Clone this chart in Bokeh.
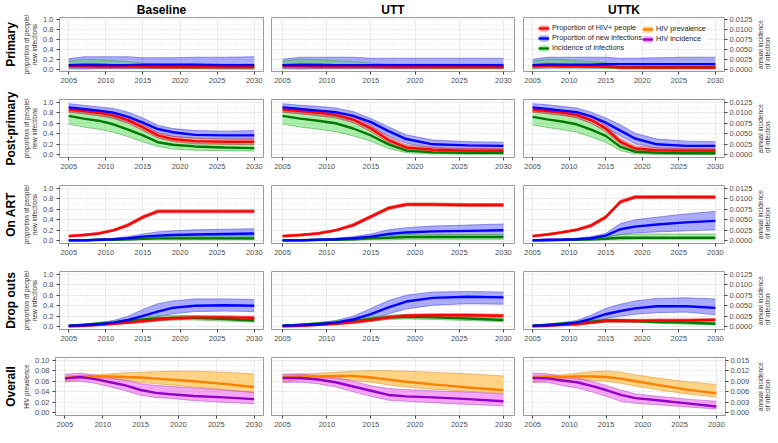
from bokeh.plotting import figure
from bokeh.models import (Range1d, LinearAxis, FixedTicker, NumeralTickFormatter,
                          Title, Legend, LegendItem)
from bokeh.layouts import column, row
from bokeh.embed import file_html
from bokeh.resources import INLINE

YEARS = [2005, 2007, 2009, 2011, 2013, 2015, 2017, 2019, 2022, 2026, 2030]
X_TICKS = [2005, 2010, 2015, 2020, 2025, 2030]

COLS = ["B", "U", "K"]
COL_TITLES = ["Baseline", "UTT", "UTTK"]
ROWS = ["PRI", "POST", "ART", "DROP", "ALL"]
ROW_TITLES = ["Primary", "Post-primary", "On ART", "Drop outs", "Overall"]
RIGHT_TITLE = "annual incidence\nof infection"

# ---------------- Primary ----------------
B_PRI_HIV = [0.06, 0.06, 0.05, 0.05, 0.05, 0.05, 0.04, 0.04, 0.04, 0.04, 0.04]
B_PRI_HIV_LO = [0.03, 0.02, 0.02, 0.02, 0.02, 0.02, 0.02, 0.02, 0.02, 0.02, 0.02]
B_PRI_HIV_HI = [0.09, 0.11, 0.10, 0.09, 0.08, 0.07, 0.06, 0.06, 0.06, 0.06, 0.06]
B_PRI_NEW = [0.08, 0.08, 0.08, 0.08, 0.08, 0.09, 0.09, 0.09, 0.09, 0.08, 0.08]
B_PRI_NEW_LO = [0.01, 0.00, 0.01, 0.01, 0.01, 0.01, 0.01, 0.01, 0.01, 0.00, 0.00]
B_PRI_NEW_HI = [0.21, 0.25, 0.25, 0.25, 0.25, 0.23, 0.23, 0.23, 0.24, 0.24, 0.25]
B_PRI_INC = [0.001, 0.00113, 0.00113, 0.001, 0.00088, 0.00075, 0.00063, 0.00063, 0.00063, 0.00063, 0.00063]
B_PRI_INC_LO = [0.00025, 0.00038, 0.00038, 0.00038, 0.00025, 0.00025, 0.00025, 0.00025, 0.00013, 0.00013, 0.00013]
B_PRI_INC_HI = [0.002, 0.0025, 0.00238, 0.00213, 0.00188, 0.0015, 0.00125, 0.00125, 0.00125, 0.00125, 0.00125]

U_PRI_HIV = [0.06, 0.06, 0.05, 0.05, 0.05, 0.05, 0.04, 0.04, 0.04, 0.04, 0.04]
U_PRI_HIV_LO = [0.03, 0.02, 0.02, 0.02, 0.02, 0.02, 0.02, 0.02, 0.02, 0.02, 0.02]
U_PRI_HIV_HI = [0.09, 0.11, 0.10, 0.09, 0.08, 0.07, 0.06, 0.06, 0.06, 0.06, 0.06]
U_PRI_NEW = [0.08, 0.08, 0.08, 0.08, 0.08, 0.08, 0.08, 0.08, 0.08, 0.08, 0.08]
U_PRI_NEW_LO = [0.01, 0.00, 0.01, 0.01, 0.01, 0.01, 0.01, 0.01, 0.01, 0.01, 0.01]
U_PRI_NEW_HI = [0.20, 0.24, 0.24, 0.24, 0.24, 0.22, 0.22, 0.22, 0.22, 0.22, 0.22]
U_PRI_INC = [0.001, 0.00113, 0.00113, 0.001, 0.00088, 0.00075, 0.00063, 0.00063, 0.00063, 0.00063, 0.00063]
U_PRI_INC_LO = [0.00025, 0.00038, 0.00038, 0.00038, 0.00025, 0.00025, 0.00025, 0.00025, 0.00013, 0.00013, 0.00013]
U_PRI_INC_HI = [0.002, 0.0025, 0.00238, 0.00213, 0.00188, 0.0015, 0.00125, 0.00125, 0.00125, 0.00125, 0.00125]

K_PRI_HIV = [0.06, 0.07, 0.06, 0.06, 0.06, 0.05, 0.03, 0.03, 0.03, 0.03, 0.03]
K_PRI_HIV_LO = [0.03, 0.04, 0.03, 0.03, 0.03, 0.03, 0.01, 0.01, 0.01, 0.01, 0.01]
K_PRI_HIV_HI = [0.09, 0.12, 0.10, 0.09, 0.09, 0.08, 0.05, 0.05, 0.05, 0.05, 0.05]
K_PRI_NEW = [0.08, 0.09, 0.09, 0.09, 0.09, 0.10, 0.10, 0.10, 0.10, 0.10, 0.10]
K_PRI_NEW_LO = [0.01, 0.02, 0.02, 0.02, 0.02, 0.02, 0.03, 0.03, 0.03, 0.03, 0.03]
K_PRI_NEW_HI = [0.20, 0.24, 0.24, 0.24, 0.24, 0.24, 0.22, 0.22, 0.23, 0.24, 0.24]
K_PRI_INC = [0.0009, 0.001, 0.001, 0.0009, 0.0008, 0.0007, 0.0005, 0.0005, 0.0005, 0.0005, 0.0005]
K_PRI_INC_LO = [0.0002, 0.0003, 0.0003, 0.0003, 0.0002, 0.0002, 0.0001, 0.0001, 0.0001, 0.0001, 0.0001]
K_PRI_INC_HI = [0.0019, 0.0025, 0.0024, 0.0021, 0.0019, 0.0016, 0.0012, 0.0011, 0.0011, 0.0011, 0.0011]

# ---------------- Post-primary ----------------
B_POST_HIV = [0.86, 0.83, 0.80, 0.75, 0.66, 0.52, 0.37, 0.30, 0.26, 0.25, 0.25]
B_POST_HIV_LO = [0.81, 0.78, 0.74, 0.69, 0.60, 0.46, 0.32, 0.25, 0.21, 0.20, 0.20]
B_POST_HIV_HI = [0.91, 0.88, 0.85, 0.81, 0.72, 0.58, 0.42, 0.35, 0.31, 0.30, 0.30]
B_POST_NEW = [0.90, 0.87, 0.84, 0.80, 0.72, 0.61, 0.49, 0.43, 0.38, 0.37, 0.37]
B_POST_NEW_LO = [0.82, 0.78, 0.75, 0.70, 0.62, 0.52, 0.41, 0.35, 0.32, 0.31, 0.30]
B_POST_NEW_HI = [0.97, 0.94, 0.91, 0.88, 0.81, 0.70, 0.56, 0.50, 0.46, 0.45, 0.46]
B_POST_INC = [0.00925, 0.0086, 0.0081, 0.00725, 0.006, 0.0046, 0.003, 0.0024, 0.002, 0.00175, 0.0016]
B_POST_INC_LO = [0.0073, 0.0066, 0.0061, 0.0054, 0.0043, 0.0031, 0.002, 0.0014, 0.0011, 0.001, 0.0009]
B_POST_INC_HI = [0.0106, 0.0101, 0.0096, 0.0089, 0.0075, 0.006, 0.0041, 0.0034, 0.0029, 0.0026, 0.0025]

U_POST_HIV = [0.86, 0.83, 0.80, 0.76, 0.67, 0.50, 0.28, 0.14, 0.10, 0.08, 0.08]
U_POST_HIV_LO = [0.81, 0.78, 0.74, 0.70, 0.61, 0.44, 0.23, 0.10, 0.07, 0.05, 0.05]
U_POST_HIV_HI = [0.91, 0.88, 0.85, 0.82, 0.73, 0.56, 0.34, 0.19, 0.14, 0.12, 0.12]
U_POST_NEW = [0.90, 0.87, 0.84, 0.81, 0.74, 0.62, 0.45, 0.30, 0.20, 0.18, 0.17]
U_POST_NEW_LO = [0.82, 0.78, 0.75, 0.72, 0.64, 0.52, 0.36, 0.22, 0.13, 0.11, 0.10]
U_POST_NEW_HI = [0.97, 0.94, 0.92, 0.89, 0.82, 0.69, 0.53, 0.38, 0.28, 0.25, 0.24]
U_POST_INC = [0.00925, 0.0086, 0.0081, 0.0075, 0.00625, 0.0046, 0.0025, 0.001, 0.0006, 0.0005, 0.0005]
U_POST_INC_LO = [0.0073, 0.0066, 0.0061, 0.0055, 0.0045, 0.00325, 0.0015, 0.0005, 0.00025, 0.00015, 0.00015]
U_POST_INC_HI = [0.0106, 0.0101, 0.0096, 0.009, 0.00775, 0.006, 0.0036, 0.0016, 0.0011, 0.001, 0.001]

K_POST_HIV = [0.86, 0.83, 0.80, 0.76, 0.66, 0.50, 0.25, 0.12, 0.09, 0.08, 0.08]
K_POST_HIV_LO = [0.81, 0.78, 0.75, 0.70, 0.60, 0.44, 0.20, 0.08, 0.06, 0.05, 0.05]
K_POST_HIV_HI = [0.91, 0.88, 0.85, 0.82, 0.72, 0.56, 0.31, 0.17, 0.13, 0.12, 0.12]
K_POST_NEW = [0.90, 0.87, 0.84, 0.81, 0.73, 0.61, 0.46, 0.31, 0.20, 0.17, 0.17]
K_POST_NEW_LO = [0.82, 0.79, 0.76, 0.72, 0.63, 0.52, 0.36, 0.21, 0.13, 0.10, 0.10]
K_POST_NEW_HI = [0.97, 0.95, 0.92, 0.89, 0.81, 0.70, 0.57, 0.41, 0.30, 0.26, 0.25]
K_POST_INC = [0.009, 0.0084, 0.0079, 0.00725, 0.006, 0.0045, 0.0019, 0.00075, 0.0005, 0.0004, 0.0004]
K_POST_INC_LO = [0.0071, 0.0065, 0.006, 0.0054, 0.00425, 0.003, 0.001, 0.00025, 0.00015, 0.00015, 0.00015]
K_POST_INC_HI = [0.0105, 0.01, 0.0095, 0.0089, 0.0075, 0.0059, 0.0029, 0.00125, 0.001, 0.0009, 0.0009]

# ---------------- On ART ----------------
B_ART_HIV = [0.09, 0.11, 0.14, 0.20, 0.30, 0.45, 0.56, 0.56, 0.56, 0.56, 0.56]
B_ART_HIV_LO = [0.07, 0.09, 0.12, 0.18, 0.27, 0.42, 0.53, 0.53, 0.53, 0.53, 0.53]
B_ART_HIV_HI = [0.11, 0.13, 0.16, 0.22, 0.33, 0.48, 0.59, 0.59, 0.59, 0.59, 0.59]
B_ART_NEW = [0.01, 0.01, 0.02, 0.03, 0.05, 0.08, 0.10, 0.11, 0.12, 0.13, 0.14]
B_ART_NEW_LO = [0.00, 0.00, 0.01, 0.02, 0.03, 0.04, 0.06, 0.06, 0.07, 0.07, 0.07]
B_ART_NEW_HI = [0.02, 0.02, 0.03, 0.05, 0.08, 0.13, 0.17, 0.19, 0.21, 0.22, 0.23]
B_ART_INC = [0.00013, 0.00013, 0.00025, 0.00025, 0.0004, 0.0005, 0.0006, 0.0006, 0.0006, 0.0006, 0.0006]
B_ART_INC_LO = [0.0, 0.0, 0.0, 0.00013, 0.00013, 0.00025, 0.00025, 0.00025, 0.00025, 0.00025, 0.00025]
B_ART_INC_HI = [0.00025, 0.00025, 0.0004, 0.0005, 0.0006, 0.0009, 0.001, 0.0011, 0.0011, 0.00125, 0.00125]

U_ART_HIV = [0.09, 0.11, 0.14, 0.20, 0.30, 0.46, 0.62, 0.69, 0.69, 0.68, 0.68]
U_ART_HIV_LO = [0.07, 0.09, 0.12, 0.18, 0.27, 0.43, 0.59, 0.66, 0.66, 0.65, 0.65]
U_ART_HIV_HI = [0.11, 0.13, 0.16, 0.22, 0.33, 0.49, 0.65, 0.72, 0.72, 0.71, 0.71]
U_ART_NEW = [0.01, 0.01, 0.02, 0.03, 0.05, 0.08, 0.13, 0.16, 0.18, 0.19, 0.20]
U_ART_NEW_LO = [0.00, 0.00, 0.01, 0.02, 0.03, 0.04, 0.07, 0.09, 0.10, 0.10, 0.10]
U_ART_NEW_HI = [0.02, 0.02, 0.03, 0.05, 0.08, 0.13, 0.21, 0.25, 0.28, 0.30, 0.32]
U_ART_INC = [0.00013, 0.00013, 0.00025, 0.00025, 0.00038, 0.00063, 0.00075, 0.00088, 0.00088, 0.00088, 0.00088]
U_ART_INC_LO = [0.0, 0.0, 0.0, 0.00013, 0.00013, 0.00025, 0.00025, 0.00038, 0.00038, 0.00038, 0.00038]
U_ART_INC_HI = [0.00025, 0.00025, 0.00038, 0.0005, 0.00063, 0.001, 0.00125, 0.0015, 0.0015, 0.0015, 0.0015]

K_ART_HIV = [0.09, 0.12, 0.16, 0.21, 0.29, 0.45, 0.74, 0.83, 0.83, 0.83, 0.83]
K_ART_HIV_LO = [0.07, 0.10, 0.14, 0.19, 0.26, 0.42, 0.71, 0.80, 0.80, 0.80, 0.80]
K_ART_HIV_HI = [0.11, 0.14, 0.18, 0.23, 0.32, 0.48, 0.77, 0.86, 0.86, 0.86, 0.86]
K_ART_NEW = [0.01, 0.02, 0.02, 0.03, 0.05, 0.10, 0.22, 0.27, 0.31, 0.35, 0.38]
K_ART_NEW_LO = [0.00, 0.00, 0.01, 0.02, 0.03, 0.06, 0.12, 0.15, 0.17, 0.19, 0.21]
K_ART_NEW_HI = [0.02, 0.03, 0.03, 0.05, 0.08, 0.14, 0.33, 0.40, 0.45, 0.51, 0.56]
K_ART_INC = [0.00013, 0.00013, 0.00025, 0.00025, 0.00038, 0.0005, 0.00075, 0.00075, 0.00075, 0.00075, 0.00075]
K_ART_INC_LO = [0.0, 0.0, 0.0, 0.00013, 0.00013, 0.00025, 0.00025, 0.00038, 0.00038, 0.00038, 0.00038]
K_ART_INC_HI = [0.00025, 0.00025, 0.00038, 0.0005, 0.00063, 0.00088, 0.0015, 0.00163, 0.00163, 0.00163, 0.00163]

# ---------------- Drop outs ----------------
B_DROP_HIV = [0.01, 0.02, 0.04, 0.06, 0.08, 0.11, 0.14, 0.16, 0.18, 0.18, 0.17]
B_DROP_HIV_LO = [0.00, 0.00, 0.02, 0.04, 0.06, 0.08, 0.11, 0.13, 0.15, 0.15, 0.14]
B_DROP_HIV_HI = [0.02, 0.04, 0.06, 0.08, 0.11, 0.14, 0.17, 0.19, 0.21, 0.21, 0.20]
B_DROP_NEW = [0.02, 0.03, 0.05, 0.08, 0.13, 0.21, 0.29, 0.36, 0.40, 0.41, 0.40]
B_DROP_NEW_LO = [0.01, 0.02, 0.03, 0.05, 0.08, 0.13, 0.19, 0.25, 0.29, 0.30, 0.29]
B_DROP_NEW_HI = [0.03, 0.05, 0.08, 0.12, 0.20, 0.33, 0.44, 0.49, 0.53, 0.53, 0.52]
B_DROP_INC = [0.00025, 0.0005, 0.00075, 0.001, 0.00138, 0.00175, 0.002, 0.00213, 0.00213, 0.00188, 0.0015]
B_DROP_INC_LO = [0.00013, 0.00025, 0.0005, 0.00063, 0.00088, 0.00125, 0.0015, 0.00163, 0.00163, 0.00138, 0.00113]
B_DROP_INC_HI = [0.00038, 0.00063, 0.001, 0.00138, 0.00175, 0.00225, 0.00263, 0.00275, 0.00263, 0.00238, 0.002]

U_DROP_HIV = [0.01, 0.02, 0.04, 0.06, 0.09, 0.13, 0.18, 0.21, 0.22, 0.22, 0.21]
U_DROP_HIV_LO = [0.00, 0.00, 0.02, 0.04, 0.06, 0.10, 0.15, 0.18, 0.19, 0.19, 0.18]
U_DROP_HIV_HI = [0.02, 0.04, 0.06, 0.08, 0.12, 0.16, 0.21, 0.24, 0.25, 0.25, 0.24]
U_DROP_NEW = [0.02, 0.03, 0.05, 0.08, 0.14, 0.24, 0.37, 0.48, 0.55, 0.57, 0.56]
U_DROP_NEW_LO = [0.01, 0.02, 0.03, 0.05, 0.09, 0.15, 0.25, 0.34, 0.41, 0.44, 0.43]
U_DROP_NEW_HI = [0.03, 0.05, 0.08, 0.12, 0.20, 0.35, 0.50, 0.60, 0.66, 0.67, 0.66]
U_DROP_INC = [0.00025, 0.0005, 0.00075, 0.001, 0.00138, 0.00188, 0.00225, 0.00238, 0.00225, 0.002, 0.00163]
U_DROP_INC_LO = [0.00013, 0.00025, 0.0005, 0.00063, 0.001, 0.00138, 0.00175, 0.00188, 0.00175, 0.0015, 0.00125]
U_DROP_INC_HI = [0.00038, 0.00063, 0.001, 0.00138, 0.00188, 0.00238, 0.00275, 0.00288, 0.00275, 0.0025, 0.00213]

K_DROP_HIV = [0.01, 0.02, 0.04, 0.05, 0.08, 0.11, 0.11, 0.11, 0.12, 0.12, 0.13]
K_DROP_HIV_LO = [0.00, 0.00, 0.02, 0.03, 0.06, 0.09, 0.09, 0.09, 0.10, 0.10, 0.11]
K_DROP_HIV_HI = [0.02, 0.04, 0.06, 0.08, 0.11, 0.14, 0.14, 0.14, 0.15, 0.15, 0.16]
K_DROP_NEW = [0.02, 0.03, 0.05, 0.08, 0.15, 0.24, 0.30, 0.35, 0.39, 0.39, 0.36]
K_DROP_NEW_LO = [0.01, 0.02, 0.03, 0.05, 0.10, 0.16, 0.20, 0.24, 0.27, 0.28, 0.23]
K_DROP_NEW_HI = [0.03, 0.05, 0.08, 0.12, 0.22, 0.35, 0.43, 0.49, 0.54, 0.55, 0.53]
K_DROP_INC = [0.00025, 0.0005, 0.00075, 0.001, 0.00125, 0.0015, 0.0015, 0.00138, 0.00113, 0.001, 0.00075]
K_DROP_INC_LO = [0.00013, 0.00025, 0.0005, 0.00063, 0.00088, 0.00113, 0.00113, 0.001, 0.00088, 0.00063, 0.0005]
K_DROP_INC_HI = [0.00038, 0.00063, 0.001, 0.00125, 0.00163, 0.00188, 0.00188, 0.00175, 0.0015, 0.00125, 0.001]

# ---------------- Overall ----------------
B_ALL_PREV = [0.066, 0.069, 0.069, 0.069, 0.068, 0.067, 0.065, 0.063, 0.060, 0.055, 0.049]
B_ALL_PREV_LO = [0.058, 0.064, 0.066, 0.064, 0.062, 0.058, 0.055, 0.053, 0.049, 0.044, 0.038]
B_ALL_PREV_HI = [0.070, 0.071, 0.072, 0.074, 0.076, 0.077, 0.078, 0.079, 0.079, 0.077, 0.074]
B_ALL_INCID = [0.0098, 0.0102, 0.0096, 0.0087, 0.0078, 0.0065, 0.0057, 0.0053, 0.0048, 0.0044, 0.0039]
B_ALL_INCID_LO = [0.009, 0.009, 0.0084, 0.0074, 0.0063, 0.005, 0.0044, 0.0041, 0.0035, 0.003, 0.0026]
B_ALL_INCID_HI = [0.011, 0.0113, 0.0107, 0.01, 0.0093, 0.0083, 0.0078, 0.0075, 0.0071, 0.0065, 0.0059]

U_ALL_PREV = [0.067, 0.069, 0.069, 0.070, 0.070, 0.067, 0.063, 0.059, 0.054, 0.048, 0.043]
U_ALL_PREV_LO = [0.058, 0.063, 0.066, 0.065, 0.062, 0.058, 0.053, 0.049, 0.045, 0.041, 0.037]
U_ALL_PREV_HI = [0.072, 0.073, 0.075, 0.077, 0.079, 0.080, 0.080, 0.079, 0.077, 0.074, 0.070]
U_ALL_INCID = [0.0099, 0.0099, 0.0095, 0.0087, 0.0075, 0.0063, 0.0051, 0.0047, 0.0044, 0.0039, 0.0033]
U_ALL_INCID_LO = [0.0087, 0.0087, 0.0083, 0.0074, 0.006, 0.0047, 0.0036, 0.0033, 0.0029, 0.0024, 0.002]
U_ALL_INCID_HI = [0.011, 0.0111, 0.0105, 0.01, 0.009, 0.0077, 0.0069, 0.0066, 0.0063, 0.0059, 0.0054]

K_ALL_PREV = [0.066, 0.068, 0.068, 0.069, 0.069, 0.068, 0.065, 0.060, 0.053, 0.044, 0.037]
K_ALL_PREV_LO = [0.058, 0.062, 0.064, 0.064, 0.062, 0.060, 0.056, 0.051, 0.044, 0.036, 0.030]
K_ALL_PREV_HI = [0.070, 0.071, 0.072, 0.075, 0.078, 0.079, 0.077, 0.072, 0.066, 0.059, 0.054]
K_ALL_INCID = [0.0099, 0.0098, 0.0092, 0.0087, 0.0077, 0.0065, 0.0051, 0.0042, 0.0036, 0.0027, 0.0018]
K_ALL_INCID_LO = [0.0087, 0.0087, 0.0078, 0.0071, 0.006, 0.0047, 0.0033, 0.0027, 0.0023, 0.0017, 0.0011]
K_ALL_INCID_HI = [0.0113, 0.0111, 0.0104, 0.0099, 0.009, 0.0078, 0.0065, 0.0054, 0.0047, 0.0039, 0.0033]

# tick sets
PROP_TICKS = [0.0, 0.2, 0.4, 0.6, 0.8, 1.0]
INC_TICKS = [0.0, 0.0025, 0.005, 0.0075, 0.01, 0.0125]
PREV_TICKS = [0.0, 0.02, 0.04, 0.06, 0.08, 0.10]
INCID_TICKS = [0.0, 0.003, 0.006, 0.009, 0.012, 0.015]

FONT = "Liberation Sans"
C_RED, C_RED_BAND, C_RED_EDGE = "#ff0000", "#ff5a5a", "#c04040"
C_BLUE, C_BLUE_BAND, C_BLUE_EDGE = "#0000ff", "#5a5aff", "#4a4ad8"
C_GREEN, C_GREEN_BAND, C_GREEN_EDGE = "#007a00", "#46dc46", "#3aa83a"
C_ORANGE, C_ORANGE_BAND, C_ORANGE_EDGE = "#ff7f00", "#ffb732", "#e0902a"
C_PURPLE, C_PURPLE_BAND, C_PURPLE_EDGE = "#9400c8", "#ee5cee", "#b050c0"

# (figure width, min left border, min right border)
COL_DIMS = [(267, 45, 4), (252, 4, 5), (236, 4, 30)]
SIDE_W = 15
ROW_DIMS = [(87, 13, 16), (86, 12, 16), (86, 12, 16), (86, 12, 16), (86, 12, 16)]


def get(name):
    return globals()[name]


def minor_of(ticks):
    return [(a + b) / 2 for a, b in zip(ticks[:-1], ticks[1:])]


def style_axis(ax):
    ax.axis_line_color = None
    ax.major_tick_line_color = "#444444"
    ax.major_tick_out = 3
    ax.major_tick_in = 0
    ax.minor_tick_line_color = None
    ax.major_label_text_font = FONT
    ax.major_label_text_font_size = "7.5px"
    ax.major_label_text_color = "#4d4d4d"
    ax.major_label_standoff = 2
    ax.axis_label_text_font = FONT
    ax.axis_label_text_font_size = "6.5px"
    ax.axis_label_text_font_style = "normal"
    ax.axis_label_text_color = "#333333"
    ax.axis_label_standoff = 2


def band(p, lo, hi, fill, alpha, edge, rng):
    r = p.varea(x=YEARS, y1=lo, y2=hi, fill_color=fill, fill_alpha=alpha, y_range_name=rng)
    p.line(YEARS, lo, line_color=edge, line_width=0.7, line_alpha=0.8, y_range_name=rng)
    p.line(YEARS, hi, line_color=edge, line_width=0.7, line_alpha=0.8, y_range_name=rng)
    return r


def mid(p, y, color, rng):
    return p.line(YEARS, y, line_color=color, line_width=2.4, y_range_name=rng)


grid_rows = []
for ri, rk in enumerate(ROWS):
    fh, bt, bb = ROW_DIMS[ri]
    overall = rk == "ALL"
    lticks = PREV_TICKS if overall else PROP_TICKS
    rticks = INCID_TICKS if overall else INC_TICKS
    lspan = lticks[-1]
    rspan = rticks[-1]
    figs = []
    for ci, ck in enumerate(COLS):
        fw, bl, br = COL_DIMS[ci]
        p = figure(width=fw, height=fh, output_backend="svg", toolbar_location=None,
                   x_range=Range1d(2003.75, 2031.25),
                   y_range=Range1d(-0.05 * lspan, 1.05 * lspan),
                   min_border_left=bl, min_border_right=br,
                   min_border_top=bt, min_border_bottom=bb)
        p.extra_y_ranges = {"sec": Range1d(-0.05 * rspan, 1.05 * rspan)}
        p.background_fill_color = "white"
        p.border_fill_color = "white"
        p.outline_line_color = "#9a9a9a"
        p.outline_line_width = 1

        p.xaxis.ticker = FixedTicker(ticks=X_TICKS, minor_ticks=minor_of(X_TICKS))
        style_axis(p.xaxis[0])
        p.yaxis.ticker = FixedTicker(ticks=lticks, minor_ticks=minor_of(lticks))
        p.yaxis.formatter = NumeralTickFormatter(format="0.00" if overall else "0.0")
        style_axis(p.yaxis[0])
        p.ygrid.ticker = FixedTicker(ticks=lticks, minor_ticks=minor_of(lticks))
        if ci == 0:
            p.yaxis.axis_label = "HIV prevalence" if overall else "proportion of people/\nnew infections"
            p.add_layout(Title(text=ROW_TITLES[ri], align="center", text_font=FONT,
                               text_font_size="12px", text_font_style="bold",
                               text_color="black", standoff=3), "left")
        else:
            p.yaxis.visible = False
        if ci == 2:
            rax = LinearAxis(y_range_name="sec",
                             ticker=FixedTicker(ticks=rticks),
                             formatter=NumeralTickFormatter(format="0.000" if overall else "0.0000"))
            style_axis(rax)
            p.add_layout(rax, "right")
        if ri == 0:
            p.title.text = COL_TITLES[ci]
            p.title.align = "center"
            p.title.text_font = FONT
            p.title.text_font_size = "12px"
            p.title.text_font_style = "bold"
            p.title.text_color = "black"
            p.title.standoff = 1

        for g in (p.xgrid[0], p.ygrid[0]):
            g.grid_line_color = "#e6e6e6"
            g.grid_line_width = 0.8
            g.minor_grid_line_color = "#ececec"
            g.minor_grid_line_width = 0.6
            g.minor_grid_line_dash = "1 1"

        if overall:
            band(p, get(f"{ck}_ALL_PREV_LO"), get(f"{ck}_ALL_PREV_HI"),
                 C_ORANGE_BAND, 0.6, C_ORANGE_EDGE, "default")
            band(p, get(f"{ck}_ALL_INCID_LO"), get(f"{ck}_ALL_INCID_HI"),
                 C_PURPLE_BAND, 0.55, C_PURPLE_EDGE, "sec")
            mid(p, get(f"{ck}_ALL_PREV"), C_ORANGE, "default")
            mid(p, get(f"{ck}_ALL_INCID"), C_PURPLE, "sec")
        else:
            bb_ = band(p, get(f"{ck}_{rk}_NEW_LO"), get(f"{ck}_{rk}_NEW_HI"),
                       C_BLUE_BAND, 0.5, C_BLUE_EDGE, "default")
            gb = band(p, get(f"{ck}_{rk}_INC_LO"), get(f"{ck}_{rk}_INC_HI"),
                      C_GREEN_BAND, 0.45, C_GREEN_EDGE, "sec")
            rb = band(p, get(f"{ck}_{rk}_HIV_LO"), get(f"{ck}_{rk}_HIV_HI"),
                      C_RED_BAND, 0.5, C_RED_EDGE, "default")
            gl = mid(p, get(f"{ck}_{rk}_INC"), C_GREEN, "sec")
            rl = mid(p, get(f"{ck}_{rk}_HIV"), C_RED, "default")
            bl_ = mid(p, get(f"{ck}_{rk}_NEW"), C_BLUE, "default")
            if ri == 0 and ci == 2:
                # legend-only renderers placed outside the visible x range
                off_x = [1990, 1991]
                ob = p.varea(x=off_x, y1=[0, 0], y2=[0.1, 0.1], fill_color=C_ORANGE_BAND, fill_alpha=0.6)
                ol = p.line(x=off_x, y=[0.05, 0.05], line_color=C_ORANGE, line_width=2.4)
                pb = p.varea(x=off_x, y1=[0, 0], y2=[0.1, 0.1], fill_color=C_PURPLE_BAND, fill_alpha=0.55)
                pl = p.line(x=off_x, y=[0.05, 0.05], line_color=C_PURPLE, line_width=2.4)
                leg_kw = dict(label_text_font=FONT, label_text_font_size="7.3px",
                              label_text_color="#222222", glyph_width=11, glyph_height=8,
                              label_height=8, label_standoff=3, spacing=1, padding=2,
                              margin=0, background_fill_color="white",
                              background_fill_alpha=0.9, border_line_color=None)
                leg1 = Legend(items=[
                    LegendItem(label="Proportion of HIV+ people", renderers=[rb, rl]),
                    LegendItem(label="Proportion of new infections", renderers=[bb_, bl_]),
                    LegendItem(label="Incidence of infections", renderers=[gb, gl]),
                ], location=(15, 19), **leg_kw)
                leg2 = Legend(items=[
                    LegendItem(label="HIV prevalence", renderers=[ob, ol]),
                    LegendItem(label="HIV incidence", renderers=[pb, pl]),
                ], location=(119, 28), **leg_kw)
                p.add_layout(leg1)
                p.add_layout(leg2)
        figs.append(p)

    # thin side strip carrying the secondary-axis title (reads bottom-to-top)
    s = figure(width=SIDE_W, height=fh, output_backend="svg", toolbar_location=None,
               x_range=Range1d(0, 1), y_range=Range1d(0, 1),
               x_axis_location=None, y_axis_location=None,
               min_border_left=SIDE_W - 1, min_border_right=0,
               min_border_top=bt, min_border_bottom=bb)
    s.outline_line_color = None
    s.background_fill_color = None
    s.border_fill_color = "white"
    s.grid.visible = False
    s.add_layout(Title(text=RIGHT_TITLE, align="center", text_font=FONT,
                       text_font_size="6.5px", text_font_style="normal",
                       text_color="#333333", standoff=0, offset=0), "left")
    figs.append(s)
    grid_rows.append(row(*figs))

layout = column(*grid_rows)
open("out.html", "w").write(file_html(layout, INLINE))
